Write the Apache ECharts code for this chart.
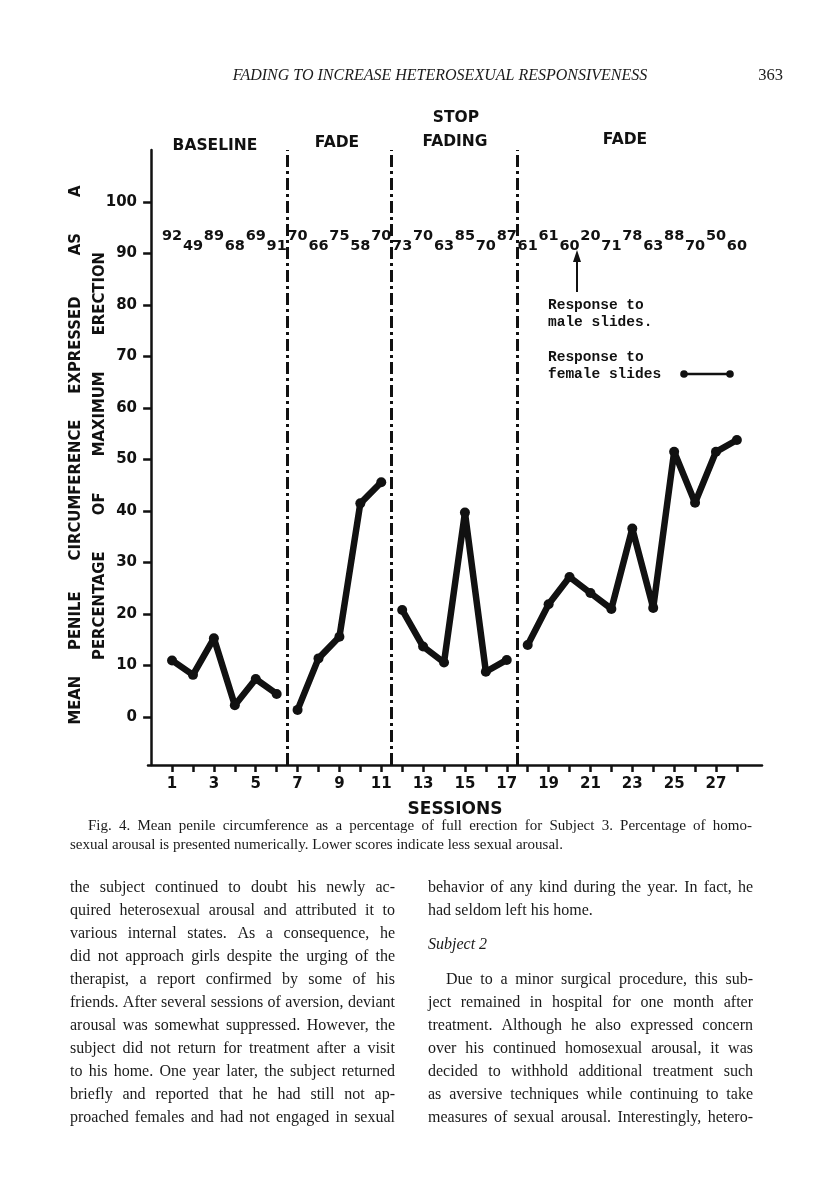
<!DOCTYPE html>
<html>
<head>
<meta charset="utf-8">
<script src="https://cdn.jsdelivr.net/npm/echarts@6.0.0/dist/echarts.min.js"></script>
<style>
  html, body { margin: 0; padding: 0; background: #fff; }
  #page { width: 816px; height: 1195px; }
</style>
</head>
<body>
<div id="page"></div>
<script>
// data
const sessions = [1, 2, 3, 4, 5, 6, 7, 8, 9, 10, 11, 12, 13, 14, 15, 16, 17, 18, 19, 20, 21, 22, 23, 24, 25, 26, 27, 28];
const femaleResponse = [11, 8.2, 15.3, 2.3, 7.4, 4.5, 1.4, 11.4, 15.6, 41.5, 45.6, 20.8, 13.7, 10.6, 39.7, 8.8, 11.1, 14.0, 21.9, 27.2, 24.1, 21.0, 36.6, 21.2, 51.5, 41.6, 51.5, 53.8];
const maleResponse = [92, 49, 89, 68, 69, 91, 70, 66, 75, 58, 70, 73, 70, 63, 85, 70, 87, 61, 61, 60, 20, 71, 78, 63, 88, 70, 50, 60];
const phaseLastSession = [6, 11, 17, 28];
const yTickValues = [0, 10, 20, 30, 40, 50, 60, 70, 80, 90, 100];
const xTickLabels = [1, 3, 5, 7, 9, 11, 13, 15, 17, 19, 21, 23, 25, 27];

const captionLines = [
  'Fig. 4. Mean penile circumference as a percentage of full erection for Subject 3. Percentage of homo-',
  'sexual arousal is presented numerically. Lower scores indicate less sexual arousal.'
];
const leftColumn = [
  'the subject continued to doubt his newly ac-',
  'quired heterosexual arousal and attributed it to',
  'various internal states. As a consequence, he',
  'did not approach girls despite the urging of the',
  'therapist, a report confirmed by some of his',
  'friends. After several sessions of aversion, deviant',
  'arousal was somewhat suppressed. However, the',
  'subject did not return for treatment after a visit',
  'to his home. One year later, the subject returned',
  'briefly and reported that he had still not ap-',
  'proached females and had not engaged in sexual'
];
const rightTop = [
  'behavior of any kind during the year. In fact, he',
  'had seldom left his home.'
];
const rightBottom = [
  'Due to a minor surgical procedure, this sub-',
  'ject remained in hospital for one month after',
  'treatment. Although he also expressed concern',
  'over his continued homosexual arousal, it was',
  'decided to withhold additional treatment such',
  'as aversive techniques while continuing to take',
  'measures of sexual arousal. Interestingly, hetero-'
];

var chart = echarts.init(document.getElementById('page'), null, { renderer: 'canvas' });

const ink = '#111';
const bold = { fontFamily: 'DejaVu Sans', fontWeight: 'bold', color: ink };

// one line per phase, so the phases are not joined
var series = [];
var start = 0;
phaseLastSession.forEach(function (last) {
  var pts = [];
  for (var i = start; i < sessions.length && sessions[i] <= last; i++) {
    pts.push([sessions[i], femaleResponse[i]]);
  }
  start += pts.length;
  series.push({
    type: 'line',
    data: pts,
    symbol: 'circle',
    symbolSize: 10,
    lineStyle: { color: ink, width: 6.5 },
    itemStyle: { color: ink },
    z: 3
  });
});

// dash-dot phase dividers
series[0].markLine = {
  silent: true,
  symbol: 'none',
  label: { show: false },
  lineStyle: { color: ink, width: 3, type: [12, 4, 3, 4] },
  data: phaseLastSession.slice(0, -1).map(function (last) { return { xAxis: last + 0.5 }; })
};

// homosexual arousal numbers along the top
var maleRow = 92.3;
series.push({
  type: 'scatter',
  symbolSize: 1,
  itemStyle: { color: 'rgba(0,0,0,0)', opacity: 1 },
  data: sessions.map(function (s) {
    return { value: [s, maleRow], label: { offset: [0, s % 2 ? -5 : 5] } };
  }),
  label: {
    show: true,
    position: 'inside',
    formatter: function (p) { return maleResponse[p.dataIndex]; },
    fontFamily: 'DejaVu Sans',
    fontWeight: 'bold',
    fontSize: 14.5,
    color: ink,
    opacity: 1
  },
  z: 4
});

function textEl(x, y, text, style) {
  return {
    type: 'text', x: x, y: y, silent: true,
    style: Object.assign({ text: text, fill: ink, align: 'left', verticalAlign: 'middle' }, style)
  };
}

// spread words across the column width like the printed page
var measure = document.createElement('canvas').getContext('2d');
function justified(line, x, y, width, style) {
  measure.font = (style.fontStyle || 'normal') + ' ' + style.fontSize + 'px "' + style.fontFamily + '"';
  var words = line.split(' ');
  var total = 0;
  words.forEach(function (w) { total += measure.measureText(w).width; });
  var gap = (width - total) / (words.length - 1);
  var out = [];
  var cx = x;
  words.forEach(function (w) {
    out.push(textEl(cx, y, w, style));
    cx += measure.measureText(w).width + gap;
  });
  return out;
}

var serif = { fontFamily: 'Liberation Serif', fontSize: 16, fill: '#1a1a1a' };
var graphics = [];

// running head
graphics.push(textEl(440, 76, 'FADING TO INCREASE HETEROSEXUAL RESPONSIVENESS',
  { fontFamily: 'Liberation Serif', fontStyle: 'italic', fontSize: 16, align: 'center', fill: '#1a1a1a' }));
graphics.push(textEl(783, 76, '363', { fontFamily: 'Liberation Serif', fontSize: 16.5, align: 'right', fill: '#1a1a1a' }));

// phase headings
var phaseHead = { fontFamily: 'DejaVu Sans', fontWeight: 'bold', fontSize: 15.5, align: 'center' };
graphics.push(textEl(215, 146, 'BASELINE', phaseHead));
graphics.push(textEl(337, 143, 'FADE', phaseHead));
graphics.push(textEl(456, 118, 'STOP', phaseHead));
graphics.push(textEl(455, 142, 'FADING', phaseHead));
graphics.push(textEl(625, 140, 'FADE', phaseHead));

// y-axis title, two rotated lines
var yTitle = { fontFamily: 'DejaVu Sans Condensed, DejaVu Sans', fontWeight: 'bold', fontSize: 16.5, align: 'center' };
graphics.push(Object.assign(textEl(0, 0, 'MEAN     PENILE      CIRCUMFERENCE     EXPRESSED        AS       A', yTitle),
  { x: 76, y: 455, rotation: Math.PI / 2 }));
graphics.push(Object.assign(textEl(0, 0, 'PERCENTAGE       OF       MAXIMUM       ERECTION', yTitle),
  { x: 100, y: 456, rotation: Math.PI / 2 }));

// key
var mono = { fontFamily: 'Liberation Mono', fontWeight: 'bold', fontSize: 14.5 };
graphics.push(textEl(548, 305, 'Response to', mono));
graphics.push(textEl(548, 322, 'male slides.', mono));
graphics.push(textEl(548, 357, 'Response to', mono));
graphics.push(textEl(548, 374, 'female slides', mono));
graphics.push({ type: 'line', silent: true, shape: { x1: 684, y1: 374, x2: 730, y2: 374 }, style: { stroke: ink, lineWidth: 2.5 } });
graphics.push({ type: 'circle', silent: true, shape: { cx: 684, cy: 374, r: 3.8 }, style: { fill: ink } });
graphics.push({ type: 'circle', silent: true, shape: { cx: 730, cy: 374, r: 3.8 }, style: { fill: ink } });
// arrow to the male numbers
graphics.push({ type: 'line', silent: true, shape: { x1: 577, y1: 292, x2: 577, y2: 258 }, style: { stroke: ink, lineWidth: 2 } });
graphics.push({ type: 'polygon', silent: true, shape: { points: [[577, 250], [573, 262], [581, 262]] }, style: { fill: ink } });

// caption
var cap = { fontFamily: 'Liberation Serif', fontSize: 15, fill: '#1a1a1a' };
graphics = graphics.concat(justified(captionLines[0], 88, 826, 664, cap));
graphics.push(textEl(70, 845, captionLines[1], cap));

// body text
leftColumn.forEach(function (t, i) {
  graphics = graphics.concat(justified(t, 70, 888 + i * 23, 325, serif));
});
graphics = graphics.concat(justified(rightTop[0], 428, 888, 325, serif));
graphics.push(textEl(428, 911, rightTop[1], serif));
graphics.push(textEl(428, 945, 'Subject 2', Object.assign({}, serif, { fontStyle: 'italic' })));
rightBottom.forEach(function (t, i) {
  var x0 = i === 0 ? 446 : 428;
  graphics = graphics.concat(justified(t, x0, 980 + i * 23, 753 - x0, serif));
});

var option = {
  animation: false,
  backgroundColor: '#fff',
  grid: { left: 148, top: 150, right: 54, bottom: 430 },
  xAxis: {
    type: 'value',
    min: -0.15,
    max: 29.2,
    name: 'SESSIONS',
    nameLocation: 'middle',
    nameGap: 36,
    nameTextStyle: Object.assign({ fontSize: 17 }, bold),
    axisLine: { onZero: false, lineStyle: { color: ink, width: 2.5 } },
    axisTick: { customValues: sessions, length: 7, lineStyle: { color: ink, width: 2.5 } },
    axisLabel: Object.assign({ customValues: xTickLabels, fontSize: 15, margin: 12 }, bold),
    splitLine: { show: false }
  },
  yAxis: {
    type: 'value',
    min: -9.3,
    max: 110.1,
    axisLine: { show: true, lineStyle: { color: ink, width: 2.5 } },
    axisTick: { show: true, customValues: yTickValues, length: 8, lineStyle: { color: ink, width: 2.5 } },
    axisLabel: Object.assign({ customValues: yTickValues, fontSize: 15, margin: 11 }, bold),
    splitLine: { show: false }
  },
  series: series,
  graphic: graphics
};

chart.setOption(option);
</script>
</body>
</html>
